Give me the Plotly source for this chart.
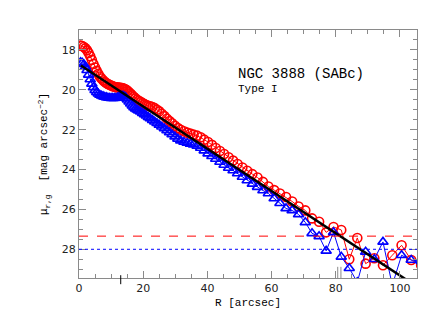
import plotly.graph_objects as go

# semi-major axis of the isophotes [arcsec]
r_sma = [0.5, 1.0, 1.5, 2.0, 2.5, 3.0, 3.5, 4.0, 4.5, 5.0, 5.5, 6.0, 6.5, 7.0, 7.5, 8.0, 8.5,
         9.0, 9.5, 10.0, 10.5, 11.0, 11.5, 12.0, 12.5, 13.0,
         13.4, 13.8, 14.3, 14.7, 15.1, 15.6, 16.1, 16.6, 17.1, 17.6,
         18.1, 18.6, 19.2, 19.8, 20.4, 21.0, 21.6, 22.2, 22.9, 23.6,
         24.3, 25.0, 25.8, 26.6, 27.4, 28.2, 29.0, 29.9, 30.8, 31.7,
         32.7, 33.7, 34.7, 35.7, 36.8, 37.9, 39.0, 40.2, 41.4, 42.6,
         43.9, 45.2, 46.6, 48.0, 49.4, 50.9, 52.4, 54.0, 55.6, 57.3,
         59.0, 60.8, 62.6, 64.5, 66.4, 68.4, 70.5, 72.6, 74.8, 77.0,
         79.3, 81.7, 84.2, 86.7, 89.3, 92.0, 94.7, 97.6, 100.5, 103.5,
         106.6]

# r-band profile (red circles)
mu_r = [17.78, 17.80, 17.85, 17.92, 18.02, 18.15, 18.32, 18.50, 18.70, 18.88, 19.05, 19.20, 19.33,
        19.43, 19.52, 19.60, 19.66, 19.71, 19.75, 19.79, 19.82, 19.85, 19.87, 19.88, 19.89, 19.90,
        19.91, 19.93, 19.96, 20.00, 20.05, 20.12, 20.20, 20.28, 20.36, 20.43,
        20.50, 20.55, 20.60, 20.66, 20.72, 20.77, 20.80, 20.83, 20.86, 20.92,
        21.00, 21.08, 21.20, 21.32, 21.45, 21.57, 21.68, 21.80, 21.92, 22.00,
        22.08, 22.15, 22.20, 22.25, 22.30, 22.38, 22.50, 22.62, 22.76, 22.92,
        23.07, 23.22, 23.38, 23.55, 23.72, 23.90, 24.06, 24.23, 24.40, 24.62,
        24.85, 25.03, 25.20, 25.38, 25.60, 25.85, 26.05, 26.45, 26.62, 27.15,
        26.88, 27.03, 28.50, 27.43, 28.72, 28.45, 28.80, 28.30, 27.80, 28.54,
        28.80]

# g-band profile (blue triangles)
mu_g = [18.62, 18.65, 18.72, 18.85, 19.02, 19.25, 19.48, 19.70, 19.88, 20.02, 20.12, 20.20, 20.26,
        20.30, 20.33, 20.36, 20.38, 20.40, 20.41, 20.42, 20.42, 20.42, 20.41, 20.39, 20.36, 20.32,
        20.30, 20.31, 20.35, 20.42, 20.50, 20.60, 20.70, 20.80, 20.88, 20.95,
        21.00, 21.05, 21.10, 21.17, 21.23, 21.30, 21.37, 21.44, 21.52, 21.60,
        21.68, 21.76, 21.85, 21.94, 22.04, 22.14, 22.24, 22.35, 22.46, 22.55,
        22.62, 22.67, 22.71, 22.75, 22.82, 22.92, 23.05, 23.20, 23.33, 23.47,
        23.62, 23.77, 23.92, 24.05, 24.20, 24.37, 24.55, 24.72, 24.88, 25.05,
        25.20, 25.45, 25.69, 25.95, 26.05, 26.25, 26.65, 27.20, 27.35, 28.08,
        27.15, 28.38, 28.95, 29.65, 28.13, 28.50, 27.63, 29.80, 28.30, 28.54,
        28.60]

# exponential disc fit (black line)
fit_r = [0.6, 20.0, 40.0, 60.0, 80.0, 100.0, 104.0]
fit_mu = [18.78, 20.84, 22.96, 25.08, 27.20, 29.32, 29.74]

mu_lim_r = 27.34   # red dashed limit
mu_lim_g = 28.0    # blue dotted limit
r_marks = [13.0, 80.6, 81.6]

gray = '#8a8a8a'
mono = 'Liberation Mono'

fig = go.Figure()
fig.add_trace(go.Scatter(x=r_sma, y=mu_r, mode='lines+markers',
                         line=dict(color='red', width=1),
                         marker=dict(symbol='circle-open', size=9, color='red', line=dict(width=1.6))))
fig.add_trace(go.Scatter(x=r_sma, y=mu_g, mode='lines+markers',
                         line=dict(color='blue', width=1),
                         marker=dict(symbol='triangle-up-open', size=9, color='blue', line=dict(width=1.6))))
fig.add_trace(go.Scatter(x=fit_r, y=fit_mu, mode='lines', line=dict(color='black', width=2.5)))

fig.add_hline(y=mu_lim_r, line=dict(color='red', width=1, dash='dash'))
fig.add_hline(y=mu_lim_g, line=dict(color='blue', width=1, dash='dot'))

# little marks on the R axis
fig.add_shape(type='line', xref='x', yref='paper', x0=r_marks[0], x1=r_marks[0], y0=-0.025, y1=0.045,
              line=dict(color='black', width=1, dash='dash'))
for xm in r_marks[1:]:
    fig.add_shape(type='line', xref='x', yref='paper', x0=xm, x1=xm, y0=0.0, y1=0.045,
                  line=dict(color=gray, width=1))

fig.add_annotation(x=0.465, y=0.823, xref='paper', yref='paper', xanchor='left', yanchor='middle',
                   showarrow=False, text='NGC 3888 (SABc)', font=dict(family=mono, size=14, color='black'))
fig.add_annotation(x=0.465, y=0.762, xref='paper', yref='paper', xanchor='left', yanchor='middle',
                   showarrow=False, text='Type I', font=dict(family=mono, size=11, color='black'))

axis_style = dict(showline=True, linecolor=gray, linewidth=1.3, mirror='ticks', ticks='inside',
                  tickcolor=gray, tickwidth=1.3, ticklen=7, showgrid=False, zeroline=False,
                  automargin=False,
                  tickfont=dict(family='DejaVu Sans', size=11, color='#222'))

# the page body adds 8px, so the figure is a bit smaller than the window
fig.update_layout(
    width=422, height=325,
    margin=dict(l=71, r=13, t=22, b=55),
    paper_bgcolor='white', plot_bgcolor='white',
    showlegend=False,
    xaxis=dict(range=[0, 105.3], dtick=20, tick0=0,
               minor=dict(dtick=5, ticks='inside', ticklen=4, tickcolor=gray, tickwidth=1.3),
               title=dict(text='R [arcsec]', font=dict(family=mono, size=11, color='black'), standoff=3),
               **axis_style),
    yaxis=dict(range=[29.44, 17.0], dtick=2, tick0=18,
               minor=dict(dtick=0.5, ticks='inside', ticklen=4, tickcolor=gray, tickwidth=1.3),
               title=dict(text='μ<sub>r,g</sub>  [mag arcsec<sup>−2</sup>]',
                          font=dict(family=mono, size=11, color='black'), standoff=11),
               **axis_style),
)

fig.write_html("out.html")
